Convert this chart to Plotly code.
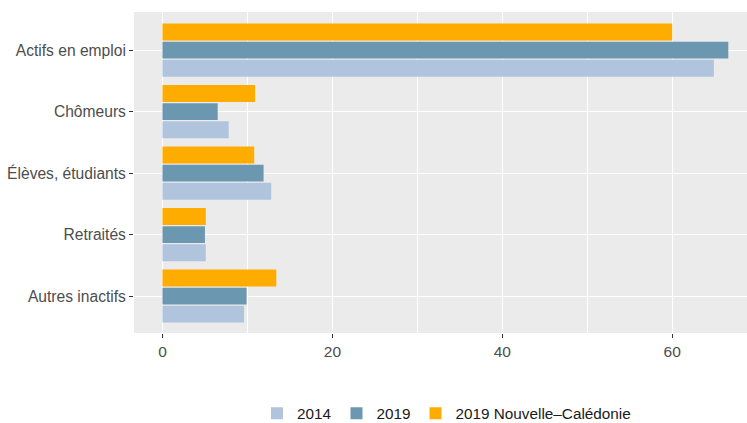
import plotly.graph_objects as go

categories = ["Actifs en emploi", "Chômeurs", "Élèves, étudiants", "Retraités", "Autres inactifs"]
series_names = ["2014", "2019", "2019 Nouvelle\u2013Calédonie"]
values_2014 = [64.9, 7.8, 12.8, 5.1, 9.6]
values_2019 = [66.6, 6.5, 11.9, 5.0, 9.9]
values_nc = [60.0, 10.9, 10.8, 5.1, 13.4]
colors = ["#B0C4DE", "#6C97B0", "#FFAC00"]
x_ticks = [0, 20, 40, 60]

fig = go.Figure()
for name, vals, col in zip(series_names, [values_2014, values_2019, values_nc], colors):
    fig.add_trace(go.Bar(
        y=categories, x=vals, name=name, orientation="h",
        marker=dict(color=col, line=dict(width=0)),
    ))

font = "Liberation Sans, Arial, sans-serif"
fig.update_layout(
    width=747, height=423,
    margin=dict(l=134, r=0, t=12, b=90, autoexpand=False),
    paper_bgcolor="white", plot_bgcolor="#EBEBEB",
    barmode="group", bargap=0.12, bargroupgap=0.06,
    font=dict(family=font, size=15.5, color="#4D4D4D"),
    showlegend=True,
    legend=dict(
        orientation="h", xref="container", yref="paper",
        x=0.344, xanchor="left", y=-0.250, yanchor="middle",
        font=dict(family=font, size=15.3, color="#1A1A1A"),
        traceorder="normal",
    ),
)
fig.update_xaxes(
    range=[-3.35, 68.8], tickvals=x_ticks, ticktext=[str(v) for v in x_ticks],
    showgrid=True, gridcolor="white", gridwidth=1.1,
    minor=dict(dtick=10, tick0=0, showgrid=True, gridcolor="white", gridwidth=0.5, ticks=""),
    zeroline=False, ticks="outside", ticklen=4, tickcolor="#333333", tickwidth=1,
    tickfont=dict(color="#4D4D4D", size=15.5),
)
fig.update_yaxes(
    categoryorder="array", categoryarray=categories[::-1], range=[-0.6, 4.62],
    showgrid=True, gridcolor="white", gridwidth=1.1, zeroline=False,
    ticks="outside", ticklen=4, tickcolor="#333333", tickwidth=1,
    tickfont=dict(color="#4D4D4D", size=15.6),
)

fig.write_html(
    "out.html",
    config={"displayModeBar": False},
    post_script="document.body.style.margin='0';document.body.style.overflow='hidden';",
)
